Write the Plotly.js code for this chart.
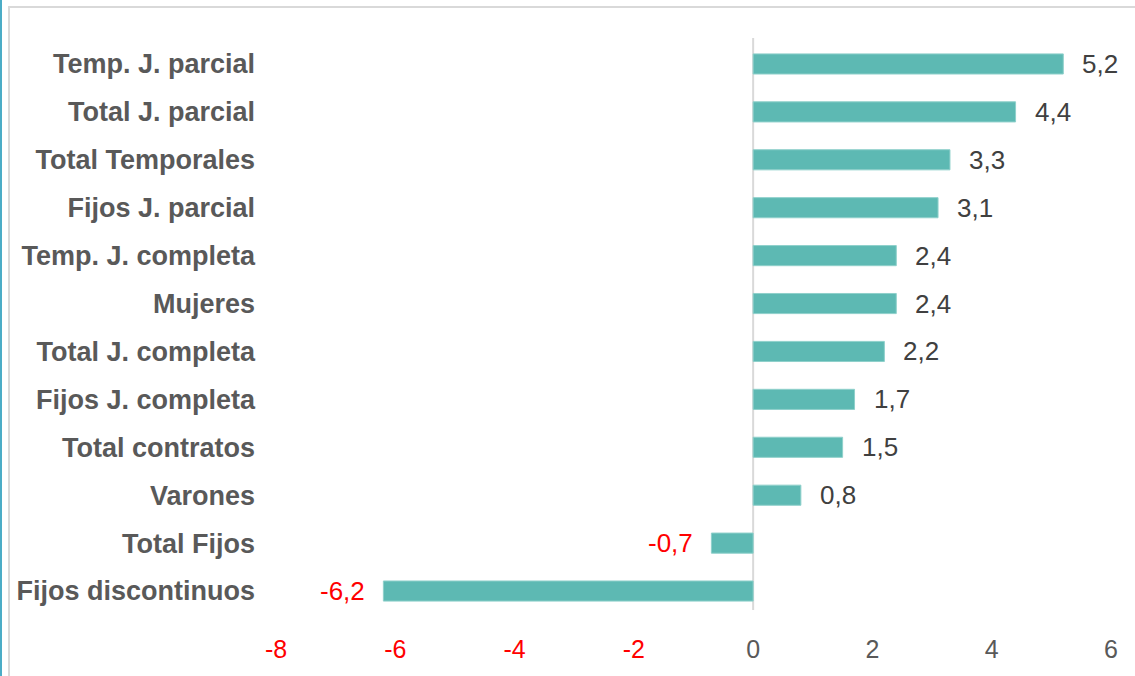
<!DOCTYPE html>
<html>
<head>
<meta charset="utf-8">
<script src="https://cdn.plot.ly/plotly-3.0.1.min.js"></script>
<style>html,body{margin:0;padding:0;background:#fff;}#chart{width:1135px;height:676px;}</style>
</head>
<body>
<div id="chart"></div>
<script>
const categories = ["Fijos discontinuos","Total Fijos","Varones","Total contratos","Fijos J. completa","Total J. completa","Mujeres","Temp. J. completa","Fijos J. parcial","Total Temporales","Total J. parcial","Temp. J. parcial"];
const values = [-6.2,-0.7,0.8,1.5,1.7,2.2,2.4,2.4,3.1,3.3,4.4,5.2];
const tickValues = [-8,-6,-4,-2,0,2,4,6];

const fmt = v => v.toFixed(1).replace('.', ',');
const tickText = tickValues.map(v => `<span style="color:${v<0?'#FF0000':'#595959'}">${v}</span>`);

const annotations = values.map((v,i) => ({
  x: v, y: categories[i], xref:'x', yref:'y',
  text: fmt(v), showarrow:false,
  xanchor: v<0 ? 'right' : 'left',
  xshift: v<0 ? -16 : 17,
  font:{family:'Liberation Sans, Arial, sans-serif', size:26, color: v<0 ? '#FF0000' : '#404040'}
}));

const trace = {
  type:'bar', orientation:'h',
  x: values, y: categories,
  marker:{color:'#5DB9B3', line:{color:'#8FD0CB', width:1}},
  hoverinfo:'skip'
};

const ml=276, mr=24, mt=40, mb=61;
const pw = 1135-ml-mr, ph = 676-mt-mb;
const px = p => (p-ml)/pw;
const py = p => (676-mb-p)/ph;

const layout = {
  width:1135, height:676,
  margin:{l:ml, r:mr, t:mt, b:mb, pad:0},
  paper_bgcolor:'#ffffff', plot_bgcolor:'#ffffff',
  showlegend:false,
  bargap:0.58,
  font:{family:'Liberation Sans, Arial, sans-serif'},
  xaxis:{
    range:[-8,6], tickvals:tickValues, ticktext:tickText,
    showgrid:false, zeroline:false, showline:false, ticks:'',
    tickfont:{size:25, color:'#595959'}, ticklabelstandoff:17
  },
  yaxis:{
    showgrid:false, zeroline:false, showline:false, ticks:'',
    tickfont:{size:27, color:'#595959', weight:'bold'},
    ticklabelstandoff:20, automargin:false
  },
  shapes:[
    {type:'line', xref:'x', yref:'paper', x0:0, x1:0, y0:py(610), y1:py(38), line:{color:'#D9D9D9', width:2}, layer:'below'},
    {type:'rect', xref:'paper', yref:'paper', x0:px(9), x1:px(1140), y0:py(690), y1:py(7), line:{color:'#D9D9D9', width:2}, fillcolor:'rgba(0,0,0,0)'},
    {type:'line', xref:'paper', yref:'paper', x0:px(1), x1:px(1), y0:py(690), y1:py(-5), line:{color:'#4BACC6', width:2}}
  ],
  annotations: annotations
};

Plotly.newPlot('chart', [trace], layout, {staticPlot:true, displayModeBar:false});
</script>
</body>
</html>
